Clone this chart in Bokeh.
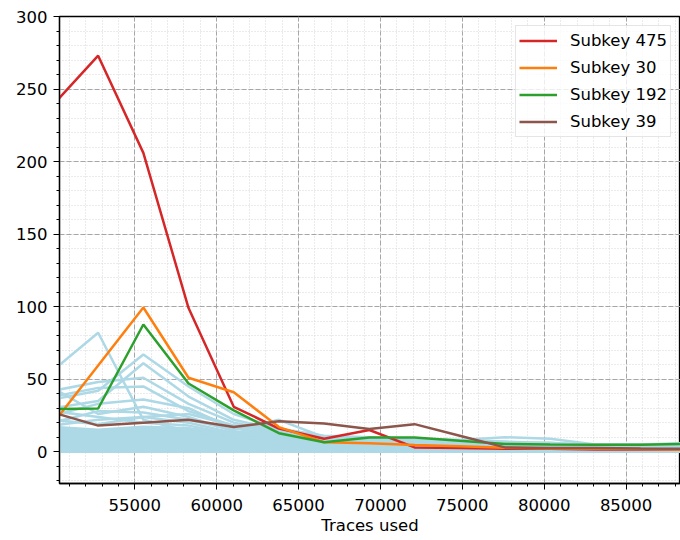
from bokeh.plotting import figure
from bokeh.models import SingleIntervalTicker, Legend, LegendItem, Range1d
from bokeh.embed import file_html
from bokeh.resources import INLINE

# ---- data ----
traces = [50000, 52760, 55520, 58280, 61040, 63800, 66560, 69320,
          72080, 74840, 77600, 80360, 83120, 85880, 88640]

subkey_475 = [239, 273, 206, 99, 31, 16, 9, 15, 3, 2.5, 2, 2, 1.5, 1.5, 1.5]
subkey_30 = [19.5, 59.5, 99.4, 51, 41, 17, 6.5, 5.8, 4.6, 3.8, 2.8, 2.3, 2, 1.8, 1.5]
subkey_192 = [29.4, 29.8, 87.7, 47, 28.5, 12.8, 6.5, 9.8, 9.8, 7.5, 5.4, 5, 4.8, 4.8, 5.4]
subkey_39 = [27, 18, 20, 22, 17, 21, 19.5, 15.6, 19, 11, 3, 2.5, 2.5, 2.2, 2]

# other subkeys (background, light blue)
other_keys = [
    [56, 82, 22, 14, 10, 9, 7, 6, 5, 4, 4, 3, 3, 3, 3],
    [36, 42, 67, 45, 26, 16, 9, 7, 6, 5, 4, 4, 3, 3, 3],
    [30, 35, 61, 38, 22, 15, 9, 8, 6, 5, 4, 3, 3, 3, 3],
    [42, 48, 51, 33, 20, 14, 8, 7, 6, 5, 4, 4, 3, 3, 3],
    [38, 44, 45, 28, 18, 13, 8, 7, 6, 5, 5, 4, 3, 3, 3],
    [25, 33, 36, 30, 16, 12, 8, 6, 5, 4, 4, 3, 3, 3, 3],
    [44, 26, 31, 24, 14, 11, 8, 6, 5, 4, 4, 3, 3, 2, 2],
    [20, 28, 27, 22, 15, 22, 10, 8, 7, 6, 5, 4, 3, 3, 3],
    [18, 22, 24, 20, 13, 14, 9, 9, 8, 8, 10, 9, 5, 5, 6],
    [28, 24, 20, 18, 12, 12, 9, 9, 8, 7, 6, 5, 4, 4, 4],
    [22, 19, 24, 26, 18, 16, 11, 10, 9, 8, 7, 6, 5, 5, 5],
]
# upper edge of the dense mass of other subkeys
other_mass_top = [18, 16, 18, 17, 13, 15, 11, 10, 9, 8, 7, 7, 5, 5, 5]
other_mass_bottom = [-0.8] * len(traces)

labels = ["Subkey 475", "Subkey 30", "Subkey 192", "Subkey 39"]
colors = ["#d62728", "#ff7f0e", "#2ca02c", "#8c564b"]

FONT = "DejaVu Sans"
FS = "16.5px"

p = figure(width=680, height=540,
           x_range=Range1d(50400, 88320), y_range=Range1d(-21.9, 300),
           output_backend="svg", toolbar_location=None,
           min_border_left=59, min_border_right=0,
           min_border_top=16, min_border_bottom=57)

p.background_fill_color = "white"
p.border_fill_color = "white"
p.outline_line_color = "black"
p.outline_line_width = 1.3

# background mass and lines
p.varea(x=traces, y1=other_mass_bottom, y2=other_mass_top,
        fill_color="#add8e6", fill_alpha=1.0)
for series in other_keys:
    p.line(traces, series, line_color="#add8e6", line_width=2.5)

renderers = []
for vals, col in zip([subkey_475, subkey_30, subkey_192, subkey_39], colors):
    r = p.line(traces, vals, line_color=col, line_width=2.5)
    renderers.append(r)

# axes
p.xaxis.ticker = SingleIntervalTicker(interval=5000, num_minor_ticks=5)
p.yaxis.ticker = SingleIntervalTicker(interval=50, num_minor_ticks=5)
p.xaxis.axis_label = "Traces used"
for ax in (p.xaxis[0], p.yaxis[0]):
    ax.axis_line_color = "black"
    ax.axis_line_width = 1.3
    ax.major_tick_line_color = "black"
    ax.minor_tick_line_color = "black"
    ax.major_tick_out = 6
    ax.major_tick_in = 0
    ax.minor_tick_out = 3
    ax.minor_tick_in = 0
    ax.major_label_text_font = FONT
    ax.major_label_text_font_size = FS
    ax.major_label_text_color = "black"
    ax.axis_label_text_font = FONT
    ax.axis_label_text_font_size = FS
    ax.axis_label_text_font_style = "normal"
    ax.axis_label_text_color = "black"
p.xaxis.major_label_standoff = 9
p.xaxis.axis_label_standoff = 2
p.yaxis.major_label_standoff = 6
p.xaxis.formatter.use_scientific = False

# grids
for g in (p.xgrid[0], p.ygrid[0]):
    g.grid_line_color = "#a6a6a6"
    g.grid_line_dash = "5 2"
    g.grid_line_width = 1
    g.minor_grid_line_color = "#d6d6d6"
    g.minor_grid_line_dash = "1 2"
    g.minor_grid_line_width = 1

legend = Legend(items=[LegendItem(label=l, renderers=[r]) for l, r in zip(labels, renderers)],
                location="top_right")
legend.label_text_font = FONT
legend.label_text_font_size = FS
legend.label_text_color = "black"
legend.glyph_width = 38
legend.glyph_height = 23
legend.label_height = 23
legend.spacing = 4
legend.padding = 3
legend.margin = 9
legend.label_standoff = 13
legend.border_line_color = "#cccccc"
legend.border_line_width = 1
legend.background_fill_alpha = 0.8
p.add_layout(legend)

open("out.html", "w").write(file_html(p, INLINE))
